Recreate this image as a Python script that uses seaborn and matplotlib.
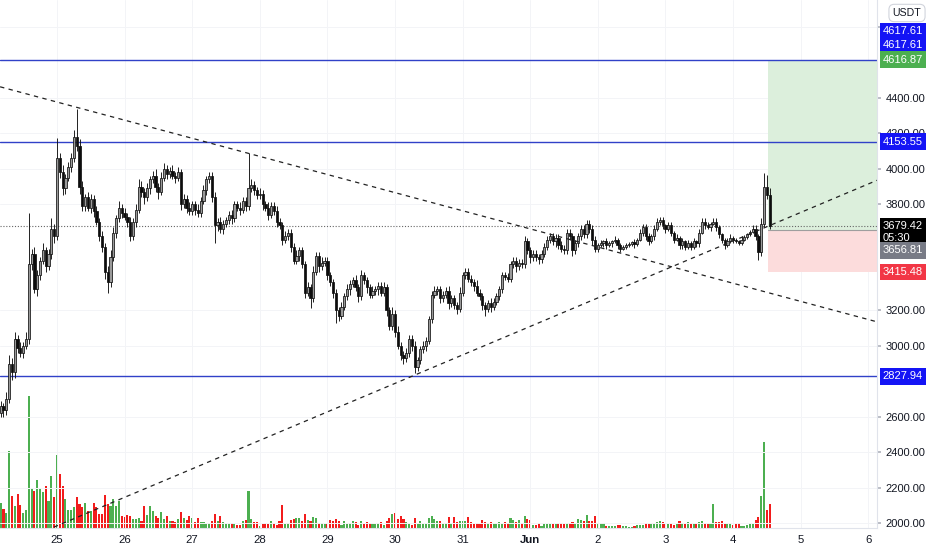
import matplotlib
matplotlib.use("Agg")
import numpy as np
import pandas as pd
import matplotlib.pyplot as plt
import matplotlib.transforms as mtransforms
import seaborn as sns

# ---------------- data (hourly candles, ETH/USDT, 24 May 04:00 -> 4 Jun) ----------------
FIRST_OPEN = 2620.0
CLOSES = [
    2660, 2640, 2700, 2900, 2850, 3040, 2990, 2960, 3000, 3040, 3460, 3520, 3320, 3400, 3480, 3540, 3450, 3520, 3660, 3620,
    4060, 3980, 3890, 3950, 4010, 4060, 4180, 4130, 3900, 3790, 3840, 3780, 3830, 3760, 3700, 3620, 3560, 3420, 3360, 3500,
    3640, 3720, 3780, 3750, 3730, 3700, 3620, 3700, 3770, 3900, 3870, 3840, 3890, 3940, 3960, 3900, 3870, 3950, 4000, 3970,
    3990, 3960, 3950, 3980, 3800, 3830, 3780, 3760, 3800, 3770, 3750, 3820, 3880, 3940, 3960, 3840, 3680, 3700, 3660, 3690,
    3710, 3740, 3720, 3800, 3780, 3770, 3820, 3790, 3890, 3910, 3880, 3850, 3860, 3800, 3780, 3740, 3790, 3760, 3700, 3680,
    3600, 3620, 3640, 3560, 3480, 3510, 3540, 3460, 3300, 3330, 3270, 3420, 3510, 3450, 3470, 3480, 3400, 3360, 3300, 3200,
    3170, 3220, 3280, 3320, 3350, 3370, 3330, 3280, 3400, 3370, 3330, 3290, 3310, 3320, 3340, 3300, 3330, 3200, 3110, 3180,
    3080, 3000, 2950, 2930, 2960, 3040, 3000, 2880, 2920, 2980, 3000, 3030, 3150, 3290, 3310, 3320, 3270, 3290, 3310, 3240,
    3270, 3230, 3210, 3300, 3400, 3420, 3380, 3360, 3340, 3300, 3280, 3230, 3210, 3240, 3220, 3250, 3280, 3320, 3400, 3390,
    3380, 3460, 3480, 3450, 3470, 3460, 3590, 3540, 3500, 3520, 3500, 3490, 3520, 3560, 3600, 3620, 3590, 3610, 3570, 3550,
    3540, 3640, 3620, 3540, 3580, 3620, 3660, 3630, 3690, 3660, 3600, 3550, 3570, 3580, 3590, 3570, 3580, 3590, 3600, 3570,
    3550, 3560, 3570, 3575, 3585, 3575, 3600, 3640, 3670, 3620, 3590, 3620, 3660, 3700, 3710, 3680, 3660, 3680, 3640, 3600,
    3610, 3570, 3590, 3560, 3580, 3560, 3590, 3580, 3640, 3700, 3680, 3670, 3690, 3700, 3670, 3630, 3600, 3570, 3590, 3610,
    3600, 3590, 3580, 3600, 3615, 3630, 3645, 3660, 3620, 3530, 3690, 3900, 3850, 3679.42,
]
UP_WICK = [
    30, 20, 40, 50, 30, 40, 20, 30, 20, 40, 290, 30, 40, 30, 20, 40, 20, 30, 60, 30,
    115, 30, 40, 20, 30, 30, 40, 160, 40, 30, 20, 30, 30, 20, 30, 20, 30, 20, 30, 40,
    30, 20, 40, 20, 30, 20, 30, 20, 30, 40, 30, 20, 30, 20, 30, 40, 20, 30, 30, 20,
    20, 30, 20, 30, 20, 30, 20, 30, 20, 20, 30, 20, 30, 20, 20, 20, 30, 20, 30, 20,
    20, 20, 30, 20, 20, 30, 20, 20, 200, 30, 20, 20, 30, 20, 20, 30, 20, 20, 30, 20,
    20, 30, 20, 20, 20, 30, 20, 20, 20, 30, 20, 30, 20, 20, 30, 20, 20, 20, 20, 20,
    20, 30, 20, 30, 20, 20, 30, 20, 30, 20, 20, 20, 30, 20, 20, 20, 30, 20, 20, 40,
    20, 30, 20, 20, 30, 20, 20, 30, 20, 20, 30, 20, 20, 20, 30, 20, 20, 20, 20, 30,
    20, 20, 20, 30, 20, 20, 20, 20, 20, 30, 20, 20, 20, 20, 30, 20, 20, 20, 20, 20,
    20, 20, 20, 20, 20, 20, 30, 20, 20, 20, 20, 20, 20, 20, 20, 20, 20, 20, 20, 20,
    20, 20, 20, 20, 20, 20, 20, 20, 20, 20, 20, 20, 10, 20, 10, 20, 10, 10, 20, 10,
    10, 10, 10, 10, 10, 20, 10, 20, 20, 20, 20, 10, 20, 20, 20, 20, 10, 20, 20, 10,
    20, 10, 20, 10, 20, 10, 20, 10, 20, 20, 20, 20, 10, 20, 20, 10, 10, 10, 20, 20,
    10, 10, 10, 20, 10, 10, 10, 20, 20, 10, 30, 77, 65, 40,
]
DN_WICK = [
    20, 40, 30, 20, 40, 30, 30, 20, 30, 20, 30, 30, 20, 40, 30, 20, 30, 20, 30, 40,
    20, 30, 40, 30, 20, 30, 20, 30, 40, 30, 30, 20, 30, 30, 20, 30, 30, 40, 60, 30,
    20, 30, 20, 30, 20, 30, 30, 20, 30, 20, 30, 40, 20, 30, 20, 30, 40, 20, 20, 30,
    20, 20, 30, 20, 30, 20, 30, 20, 20, 30, 20, 20, 20, 30, 20, 30, 100, 30, 20, 30,
    20, 20, 30, 20, 20, 30, 20, 30, 20, 20, 30, 20, 20, 30, 20, 30, 20, 20, 30, 20,
    30, 20, 20, 30, 20, 20, 30, 20, 30, 20, 55, 20, 20, 30, 20, 20, 30, 20, 30, 70,
    30, 20, 20, 20, 30, 20, 20, 30, 20, 20, 30, 20, 20, 20, 30, 20, 20, 30, 20, 20,
    30, 20, 30, 30, 20, 20, 30, 35, 20, 20, 20, 30, 20, 20, 20, 20, 30, 20, 20, 30,
    20, 20, 30, 20, 20, 20, 20, 20, 30, 20, 20, 30, 40, 20, 30, 20, 20, 20, 20, 20,
    20, 20, 20, 30, 20, 20, 20, 20, 30, 20, 20, 30, 20, 20, 20, 20, 20, 30, 20, 20,
    20, 20, 20, 30, 20, 20, 20, 20, 20, 20, 30, 20, 20, 10, 20, 20, 10, 20, 10, 20,
    20, 10, 10, 10, 10, 20, 10, 10, 20, 20, 20, 10, 20, 10, 20, 20, 20, 10, 20, 20,
    10, 20, 20, 20, 10, 20, 10, 20, 20, 10, 20, 10, 20, 10, 20, 20, 20, 20, 10, 10,
    20, 10, 10, 10, 10, 10, 10, 10, 20, 45, 20, 20, 20, 20,
]
VOLUME = [  # thousands
    25, 19, 15, 77, 32, 22, 34, 23, 15, 18, 132, 40, 37, 48, 40, 36, 42, 27, 52, 31,
    73, 54, 42, 29, 18, 18, 21, 31, 24, 21, 25, 17, 17, 25, 21, 14, 14, 33, 24, 22,
    29, 22, 27, 12, 11, 13, 12, 9, 9, 10, 7, 22, 13, 22, 17, 12, 10, 16, 9, 12,
    7, 7, 6, 9, 16, 10, 8, 12, 10, 6, 10, 6, 6, 4, 5, 7, 14, 7, 12, 6,
    4, 4, 5, 4, 3, 3, 7, 8, 37, 9, 6, 6, 2, 4, 5, 4, 7, 5, 3, 7,
    23, 4, 5, 8, 9, 10, 10, 7, 14, 8, 7, 11, 10, 5, 5, 4, 4, 8, 7, 9,
    7, 3, 7, 4, 5, 7, 6, 3, 7, 4, 6, 5, 4, 4, 5, 6, 3, 7, 10, 14,
    15, 9, 12, 9, 6, 4, 3, 10, 4, 7, 4, 4, 10, 12, 9, 7, 7, 4, 5, 11,
    5, 11, 6, 7, 7, 7, 11, 6, 4, 5, 4, 8, 6, 5, 6, 4, 4, 6, 4, 6,
    5, 10, 8, 6, 8, 5, 12, 9, 8, 3, 3, 5, 2, 4, 4, 4, 4, 4, 5, 5,
    4, 5, 5, 6, 4, 9, 8, 7, 13, 7, 7, 12, 5, 5, 5, 2, 2, 2, 2, 3,
    3, 2, 2, 1, 1, 2, 3, 3, 3, 5, 4, 4, 4, 6, 7, 6, 4, 4, 4, 3,
    4, 7, 5, 4, 6, 4, 4, 4, 6, 7, 5, 4, 4, 24, 6, 6, 7, 4, 4, 4,
    3, 4, 5, 2, 2, 3, 4, 4, 8, 11, 32, 86, 18, 24,
]
FIRST_MIDNIGHT = 20           # candle index of 25 May 00:00
DAY_LABELS = ["25", "26", "27", "28", "29", "30", "31", "Jun", "2", "3", "4", "5", "6"]
# price scale ticks left visible by the scale labels
PRICE_TICKS = [2000, 2200, 2400, 2600, 3000, 3200, 3800, 4000, 4200, 4400, 4800]

LEVELS = [4616.87, 4153.55, 2827.94]          # horizontal rays
TREND_DOWN = [(-0.2, 4463), (311.1, 3136)]    # (candle index, price)
TREND_UP = [(18.9, 1977), (311.1, 3935)]
ENTRY, TARGET, STOP = 3656.81, 4616.87, 3415.48
ALERT = 4617.61
POS_START = 272.4
LAST_PRICE = 3679.42
COUNTDOWN = "05:30"

# ---------------- build frame ----------------
df = pd.DataFrame({"close": CLOSES, "volume": VOLUME})
df["idx"] = np.arange(len(df))
df["open"] = [FIRST_OPEN] + CLOSES[:-1]
df["top"] = df[["open", "close"]].max(axis=1)
df["bot"] = df[["open", "close"]].min(axis=1)
df["high"] = df["top"] + np.array(UP_WICK)
df["low"] = df["bot"] - np.array(DN_WICK)
df["dir"] = np.where(df["close"] >= df["open"], "up", "down")

sns.set_theme(style="white")
plt.rcParams['font.family'] = ['Liberation Sans', 'DejaVu Sans']

W, H = 932, 550
fig = plt.figure(figsize=(W / 100, H / 100), dpi=100)
rect = [0, 22 / H, 877 / W, 528 / H]
XLIM = (-0.23, 311.1)
VOL_COLORS = {"up": "#4caf50", "down": "#f21c1c"}

# volume panel (underneath)
ax_v = fig.add_axes(rect)
for d, col in VOL_COLORS.items():
    sub = df[df["dir"] == d]
    ax_v.bar(sub["idx"], sub["volume"], width=0.74, color=col, lw=0)
ax_v.set_xlim(*XLIM)
ax_v.set_ylim(0, 528)
ax_v.axis("off")

# price panel
ax = fig.add_axes(rect)
ax.patch.set_alpha(0)
ax.set_xlim(*XLIM)
ax.set_ylim(1972, 4953)

day_pos = [FIRST_MIDNIGHT + 24 * k for k in range(len(DAY_LABELS))]
ax.set_xticks(day_pos)
ax.set_xticklabels(DAY_LABELS)
for lab in ax.get_xticklabels():
    if lab.get_text() == "Jun":
        lab.set_fontweight("bold")
ax.yaxis.tick_right()
ax.set_yticks(PRICE_TICKS)
ax.set_yticklabels([f"{p:.2f}" for p in PRICE_TICKS])
ax.tick_params(axis="x", length=0, pad=5, labelsize=8.2, colors="#131722")
ax.tick_params(axis="y", length=3, pad=3, labelsize=8, colors="#131722",
               color="#b2b5be", right=True)
ax.grid(True, color="#f3f4f7", lw=0.7)
for s in ["top", "left"]:
    ax.spines[s].set_visible(False)
for s in ["right", "bottom"]:
    ax.spines[s].set_color("#e0e3eb")
    ax.spines[s].set_linewidth(0.8)

# position tool
xs = [POS_START, XLIM[1]]
ax.fill_between(xs, ENTRY, TARGET, color="#dcefdc", lw=0, zorder=1)
ax.fill_between(xs, STOP, ENTRY, color="#fcdcdc", lw=0, zorder=1)
ax.plot(xs, [ENTRY, ENTRY], color="#9e9e9e", lw=0.8, zorder=1.5)

# levels and trendlines
for lv in LEVELS:
    ax.axhline(lv, color="#3141c8", lw=1.0, zorder=2)
for pts in (TREND_DOWN, TREND_UP):
    trend = pd.DataFrame(pts, columns=["idx", "price"])
    sns.lineplot(data=trend, x="idx", y="price", color="#222", lw=0.9,
                 dashes=(3.5, 3.5), zorder=4, ax=ax)
ax.set_xlabel("")
ax.set_ylabel("")
ax.axhline(LAST_PRICE, color="#666", lw=0.8, ls=(0, (1, 1.6)), zorder=2)

# candles
ax.vlines(df["idx"], df["low"], df["high"], color="#111", lw=0.65, zorder=3)
body_h = np.maximum(df["top"] - df["bot"], 3)
body_col = np.where(df["dir"] == "up", "#9a9a9a", "#0d0d0d")
ax.bar(df["idx"], body_h, bottom=df["bot"], width=0.78, color=body_col,
       edgecolor="#111", linewidth=0.55, zorder=3.2)

# price-scale labels
trans = mtransforms.blended_transform_factory(ax.transAxes, ax.transData)


def scale_label(value, text, fc, dy=0.0):
    ax.annotate(text, xy=(1, value), xycoords=trans, xytext=(4.2, dy),
                textcoords="offset points", ha="left", va="center", fontsize=8,
                color="white", annotation_clip=False, zorder=10,
                bbox=dict(boxstyle="square,pad=0.28", fc=fc, ec="none"))


scale_label(TARGET, f"{ALERT:.2f}", "#1414f5", dy=20.5)
scale_label(TARGET, f"{ALERT:.2f}", "#1414f5", dy=10.2)
scale_label(TARGET, f"{TARGET:.2f}", "#4caf50")
scale_label(LEVELS[1], f"{LEVELS[1]:.2f}", "#1414f5")
scale_label(LEVELS[2], f"{LEVELS[2]:.2f}", "#1414f5")
scale_label(LAST_PRICE, f"{LAST_PRICE:.2f}\n{COUNTDOWN}", "#000000", dy=-4.5)
scale_label(ENTRY, f"{ENTRY:.2f}", "#787b86", dy=-15)
scale_label(STOP, f"{STOP:.2f}", "#f23645")

fig.text(907 / W, 1 - 13 / H, "USDT", ha="center", va="center", fontsize=7.6,
         color="#131722",
         bbox=dict(boxstyle="round,pad=0.35,rounding_size=0.5", fc="white", ec="#d1d4dc", lw=0.8))

fig.savefig("out.png", dpi=100)
